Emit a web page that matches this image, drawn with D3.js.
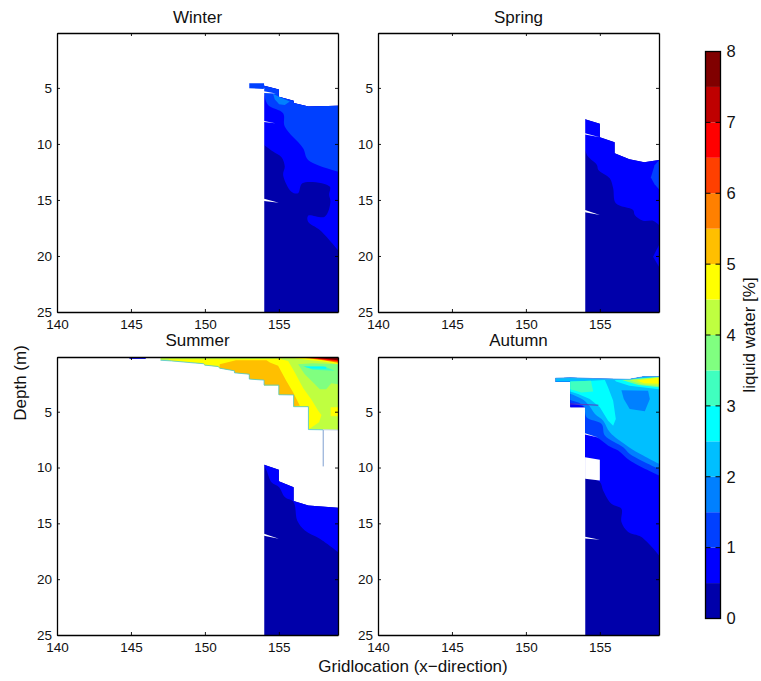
<!DOCTYPE html>
<html>
<head>
<meta charset="utf-8">
<script src="https://d3js.org/d3.v7.min.js"></script>
<style>
  html, body { margin: 0; padding: 0; background: #fff; }
  text { font-family: "Liberation Sans", Arial, sans-serif; fill: #111; }
</style>
</head>
<body>
<svg id="chart" width="761" height="681"></svg>
<script>
(function() {

  // colour levels of liquid water [%]
  var levels = [0.5, 1, 1.5, 2, 2.5, 3, 3.5, 4, 4.5, 5, 5.5, 6, 6.5, 7, 7.5];
  var levelColors = ['#0000aa', '#0000ff', '#0040ff', '#0080ff', '#00bfff', '#00ffff', '#40ffbf', '#80ff80',
    '#bfff40', '#ffff00', '#ffbf00', '#ff8000', '#ff4000', '#ff0000', '#bf0000', '#800000'];
  var barTicks = [0, 1, 2, 3, 4, 5, 6, 7, 8];

  var xTicks = [140, 145, 150, 155];
  var depthTicks = [5, 10, 15, 20, 25];

  // Contour outlines, all as [gridlocation, depth]
  // Winter
  var winterTop = [[154,4.8],[155,5.15],[155,5.8],[156,6.15],[156,6.35],[157,6.65],[159,6.6]];
  var winterEdge05 = [[154,10.09],[154.61,10.68],[155.18,11.19],[155.4,12.02],[155.29,12.77],[155.85,14.26],[156.3,14.4],
    [156.59,13.51],[158.44,13.81],[158.4,14.55],[158.49,15.15],[158.1,16.49],[156.98,16.4],[156.98,16.94],[157.77,17.68],[159,19.47]];
  var winterEdge10 = [[154,5.47],[154.27,6.52],[155.29,7.26],[155.4,8.45],[156.64,10.39],[156.98,11.43],[159,12.47]];
  var winterLobe = [[154.61,5.53],[154.72,6.01],[155.02,6.46],[155.4,6.52],[155.74,6.22],[155,5.8]];
  var winterCap = [[153,4.58],[154,4.58],[154,5.1],[153,5.03]];
  var winterGaps = [
    [[154,5.3],[154.8,5.5],[154,5.45]],
    [[154,7.95],[154.75,8.15],[154,8.05]],
    [[154,14.9],[155,15.24],[154,15.1]]
  ];

  // Spring
  var springTop = [[154,7.8],[155,8.21],[155,9.4],[156,9.85],[156,10.83],[157,11.37],[158,11.64],[159,11.43]];
  var springEdge05 = [[154,10.54],[154.2,11.13],[154.8,11.87],[154.9,12.32],[155.67,13.07],[155.9,13.96],[156.08,15.3],
    [157.25,15.9],[157.36,16.34],[157.92,16.85],[158.6,16.85],[159,17.23]];
  var springLobe = [[159,11.45],[158.7,11.9],[158.45,13],[158.7,13.6],[159,14.05]];
  var springPatch = [[159,19.02],[158.6,20.06],[159,20.96]];
  var springGaps = [
    [[154,9.05],[155,9.4],[154,9.15]],
    [[154,15.9],[155,16.34],[154,16.1]]
  ];

  // Summer, upper body
  var summerRim = [[147,0.39],[147.75,0.45],[149,0.6],[149.9,0.7],[150,0.83],[150.9,0.95],[151,1.1],[152,1.34],[152,1.52],[153,1.64],
    [153,2.08],[154,2.17],[154,2.62],[155,2.62],[155,3.48],[156,3.5],[156,4.55],[157,4.55],[157,6.6],[158,6.62]];
  var summerBody = [[147,0.2],[159,0.2],[159,6.64]].concat(summerRim.slice().reverse());
  var summerSteps = [[157,6.5],[157,4.55],[156,4.55],[156,3.5],[155,3.48],[155,2.62],[154,2.62],[154,2.17],[153,2.08],[153,1.64],
    [152,1.52],[152,1.34],[151,1.1]];
  var summerYellow = [[147.5,0.3],[152,0.3],[155,0.25],[155.63,0.45],[156.08,1.49],[156.65,2.9],[157.2,3.9],[157.66,4.91],[157.88,5.3],
    [157.72,5.95],[157.05,6.55]].concat(summerSteps, [[151,1],[150,0.83],[149.9,0.7],[149,0.6],[147.75,0.45]]);
  var summerOrange = [[151,0.75],[152.1,0.39],[154.17,0.39],[154.39,0.6],[154.95,0.89],[155.5,2.23],[155.97,3.27],[156.42,4.47],[156,4.5]]
    .concat(summerSteps.slice(2));
  var summerGreen = [[156.3,0.74],[157.3,0.65],[159,0.75],[159,2.53],[158.55,2.44],[158.2,2.98],[157.77,2.98],[157.2,2.23],[156.75,1.64]];
  var summerTeal = [[156.64,0.9],[158,0.9],[158.78,1.34],[157.3,1.25]];
  var summerCyan = [[156.7,0.98],[158.2,0.98],[158.2,1.15],[157.2,1.14]];
  var summerPatch = [[158.5,4.6],[159,4.6],[159,5.4],[158.5,5.4]];
  var summerWedges = [
    [[156,0.2],[159,0.2],[159,0.75],[158,0.5],[157,0.36]],
    [[156.8,0.2],[159,0.2],[159,0.62],[158,0.4]],
    [[157.1,0.2],[159,0.2],[159,0.52],[158,0.34]],
    [[157.3,0.2],[159,0.2],[159,0.45],[158,0.3]],
    [[157.6,0.2],[159,0.2],[159,0.38]]
  ];
  var summerFleck = [[144.9,0.2],[146,0.2],[146,0.28],[144.9,0.28]];
  var summerThread = [[158,6.64],[158,9.9]];

  // Summer, lower body
  var summerLowTop = [[154,9.76],[155,10.2],[155,11.22],[156,11.76],[156,13],[157,13.4],[159,13.6]];
  var summerLowEdge05 = [[154,9.85],[154.17,10.27],[154.5,11.31],[155.02,11.76],[155.4,12.65],[156,13.1],[156.24,14.74],
    [156.76,15.63],[157.77,16.37],[159,17.56]];
  var summerGaps = [
    [[154,15.93],[155,16.37],[154,16.1]]
  ];

  // Autumn
  var autumnTop = [[153,2.3],[152,2.3],[152,2],[153,1.95],[155,2.05],[157,2.1],[158,1.85],[159,1.85]];
  var autumnLead05 = [[153,4.6],[154,4.6],[154,10.9]];
  var autumnEdge05 = [[154,10.9],[155,11.3],[155.22,12.05],[155.78,13.24],[156.46,13.69],[156.46,14.88],
    [156.91,15.77],[157.81,16.22],[159,17.86]];
  var autumnLead10 = [[153,4.2],[153.8,4.5],[154,4.6],[154,7]];
  var autumnEdge10 = [[154,7],[154.78,7.29],[155.57,8.04],[156.24,8.48],[157.03,9.38],[159,10.72]];
  var autumnLead15 = [[153,3.95],[153.6,4.2],[154,4.6]];
  var autumnEdge15 = [[154,4.6],[154.1,5.5],[155.12,6.1],[155.34,7.14],[156.58,8.19],[157.03,8.78],[159,10.12]];
  var autumnEdge20 = [[153,3.4],[153.9,3.95],[154.3,4.5],[154.67,5.2],[155.23,5.8],[155.68,6.85],[156.92,8.13],[157.93,8.93],[159,9.67]];
  var autumnCyan = [[153,2.3],[154.43,2.23],[155.34,2.17],[155.56,2.83],[155.9,4.02],[156.08,5.66],[155.9,6.25],[155.56,5.8],[155,4.61],
    [154.32,3.87],[153.53,3.42],[153,3.19]];
  var autumnTeal = [[153,2.3],[154.4,2.23],[154.55,3.2],[153.75,3.27],[153,2.98]];
  var autumnIsland = [[156.46,3.07],[158.26,3.13],[158.38,3.87],[158.04,4.97],[157.02,4.76],[156.62,3.87]];
  var autumnRidge25 = [[156,2.15],[159,1.9],[159,2.98],[157,2.68],[156.1,2.3]];
  var autumnRidge35 = [[156.5,2.15],[159,1.9],[159,2.8],[157.6,2.6]];
  var autumnRidge40 = [[157,2.18],[159,1.92],[159,2.7],[157.8,2.55]];
  var autumnRidge45 = [[157.5,2.2],[159,1.95],[159,2.5],[158,2.45]];
  var autumnStreak = [[153,4.3],[154.9,4.42]];
  var autumnGaps = [
    [[154,6.93],[154.9,7.3],[154,7.05]],
    [[154,9.07],[155,9.3],[155,11.17],[154,11]],
    [[154,16.2],[155,16.46],[154,16.35]]
  ];

  // full body reaching the bottom of the plot
  var body = function(top) {
    return top.concat([[159,25],[top[0][0],25]]);
  };

  var winterLayers = [
    {value: 0, pts: body(winterTop)},
    {value: 0.5, top: winterTop, edge: winterEdge05},
    {value: 1, top: winterTop, edge: winterEdge10},
    {value: 1, pts: winterCap},
    {value: 1.5, pts: winterLobe}
  ];
  var springLayers = [
    {value: 0, pts: body(springTop)},
    {value: 0.5, top: springTop, edge: springEdge05},
    {value: 1, pts: springLobe},
    {value: 0.5, pts: springPatch}
  ];
  var summerLayers = [
    {value: 4, pts: summerBody},
    {value: 4.5, pts: summerYellow},
    {value: 5, pts: summerOrange},
    {value: 3.5, pts: summerGreen},
    {value: 3, pts: summerTeal},
    {value: 2.5, pts: summerCyan},
    {value: 4.5, pts: summerPatch},
    {value: 4.5, pts: summerWedges[0]},
    {value: 5.5, pts: summerWedges[1]},
    {value: 6, pts: summerWedges[2]},
    {value: 6.5, pts: summerWedges[3]},
    {value: 7.5, pts: summerWedges[4]},
    {value: 0.5, pts: summerFleck},
    {value: 0, pts: body(summerLowTop)},
    {value: 0.5, top: summerLowTop, edge: summerLowEdge05}
  ];
  var autumnBody = [[152,2.3],[152,2],[153,1.95],[155,2.05],[157,2.1],[158,1.85],[159,1.85],[159,25],[154,25],[154,4.6],[153,4.6],[153,2.3]];
  var autumnLayers = [
    {value: 0, pts: autumnBody},
    {value: 0.5, top: autumnTop, edge: autumnEdge05, lead: autumnLead05},
    {value: 1, top: autumnTop, edge: autumnEdge10, lead: autumnLead10},
    {value: 1.5, top: autumnTop, edge: autumnEdge15, lead: autumnLead15},
    {value: 2, top: autumnTop, edge: autumnEdge20},
    {value: 1.5, pts: autumnIsland},
    {value: 2.5, pts: autumnCyan},
    {value: 2.5, pts: autumnRidge25},
    {value: 3.5, pts: autumnRidge35},
    {value: 4, pts: autumnRidge40},
    {value: 4.5, pts: autumnRidge45},
    {value: 3, pts: autumnTeal}
  ];

  var svg = d3.select('#chart');
  var color = d3.scaleThreshold().domain(levels).range(levelColors);

  var seam = 'rgba(255,255,255,0.4)';
  var panels = [
    {title: 'Winter', x: 57, y: 33, h: 279, layers: winterLayers, gaps: winterGaps, titleY: -10, lines: [
      {pts: [[154,5], [154,25]], stroke: seam, w: 1}
    ]},
    {title: 'Spring', x: 378, y: 33, h: 279, layers: springLayers, gaps: springGaps, titleY: -10, lines: [
      {pts: [[154,7.8], [154,25]], stroke: seam, w: 1}
    ]},
    {title: 'Summer', x: 57, y: 357, h: 278, layers: summerLayers, gaps: summerGaps, titleY: -11, lines: [
      {pts: summerRim, stroke: '#4cc4dc', w: 0.8},
      {pts: [[158,6.62],[159,6.64]], stroke: '#c4d4f0', w: 1},
      {pts: summerThread, stroke: '#7f9fd0', w: 1},
      {pts: [[154,9.8], [154,25]], stroke: seam, w: 1}
    ]},
    {title: 'Autumn', x: 378, y: 357, h: 278, layers: autumnLayers, gaps: autumnGaps, titleY: -11, lines: [
      {pts: autumnStreak, stroke: '#5a3cc0', w: 1},
      {pts: autumnTop.slice(1), stroke: '#50a0ec', w: 0.8},
      {pts: [[154,11], [154,25]], stroke: seam, w: 1}
    ]}
  ];

  var panelW = 281;

  panels.forEach(function(p) {
    var g = svg.append('g').attr('transform', 'translate(' + p.x + ',' + p.y + ')');
    var xScale = d3.scaleLinear().domain([140, 159]).range([0, panelW]);
    var yScale = d3.scaleLinear().domain([0.1, 25]).range([0, p.h]);
    var path = d3.line()
      .x(function(d) { return xScale(d[0]); })
      .y(function(d) { return yScale(d[1]); });
    var curved = d3.line()
      .x(function(d) { return xScale(d[0]); })
      .y(function(d) { return yScale(d[1]); })
      .curve(d3.curveCatmullRom.alpha(0.5));

    // straight along the body, smoothed along the contour itself
    var layerPath = function(d) {
      if (d.pts) { return path(d.pts) + 'Z'; }
      var s = path(d.top) + curved(d.edge.slice().reverse()).replace(/^M/, 'L');
      if (d.lead) { s += path(d.lead.slice().reverse()).replace(/^M/, 'L'); }
      return s + 'Z';
    };

    g.selectAll('path.layer')
      .data(p.layers)
      .enter().append('path')
      .attr('class', 'layer')
      .attr('d', layerPath)
      .attr('fill', function(d) { return color(d.value); });

    // holes in the interpolated field
    g.selectAll('path.gap')
      .data(p.gaps)
      .enter().append('path')
      .attr('class', 'gap')
      .attr('d', function(d) { return path(d) + 'Z'; })
      .attr('fill', '#fff');

    g.selectAll('path.rim')
      .data(p.lines)
      .enter().append('path')
      .attr('class', 'rim')
      .attr('d', function(d) { return path(d.pts); })
      .attr('fill', 'none')
      .attr('stroke', function(d) { return d.stroke; })
      .attr('stroke-width', function(d) { return d.w; });

    // box with inward ticks, labels on bottom and left only
    var bottom = d3.axisBottom(xScale).tickValues(xTicks).tickSizeInner(-3).tickSizeOuter(0).tickPadding(7);
    var left = d3.axisLeft(yScale).tickValues(depthTicks).tickSizeInner(-3).tickSizeOuter(0).tickPadding(5);
    var top = d3.axisTop(xScale).tickValues(xTicks).tickSizeInner(-3).tickSizeOuter(0).tickFormat('');
    var right = d3.axisRight(yScale).tickValues(depthTicks).tickSizeInner(-3).tickSizeOuter(0).tickFormat('');

    var axes = [
      g.append('g').attr('transform', 'translate(0,' + p.h + ')').call(bottom),
      g.append('g').call(left),
      g.append('g').call(top),
      g.append('g').attr('transform', 'translate(' + panelW + ',0)').call(right)
    ];
    axes.forEach(function(a) {
      a.selectAll('.domain').attr('stroke', '#000').attr('stroke-width', 1.3);
      a.selectAll('.tick line').attr('stroke', '#000').attr('stroke-width', 0.9);
      a.selectAll('text')
        .style('font-family', '"Liberation Sans", Arial, sans-serif')
        .style('font-size', '13.5px')
        .attr('fill', '#111');
    });

    g.append('text')
      .attr('x', panelW / 2)
      .attr('y', p.titleY)
      .attr('text-anchor', 'middle')
      .style('font-size', '17px')
      .text(p.title);
  });

  svg.append('text')
    .attr('transform', 'translate(26,383) rotate(-90)')
    .attr('text-anchor', 'middle')
    .style('font-size', '17px')
    .text('Depth (m)');

  svg.append('text')
    .attr('x', 413)
    .attr('y', 672)
    .attr('text-anchor', 'middle')
    .style('font-size', '17px')
    .text('Gridlocation (x\u2212direction)');

  // Colorbar
  var barX = 705.5, barW = 15;
  var barScale = d3.scaleLinear().domain([0, 8]).range([618.5, 51.5]);
  var bar = svg.append('g');
  var barEdges = [0].concat(levels);

  bar.selectAll('rect')
    .data(barEdges)
    .enter().append('rect')
    .attr('x', barX)
    .attr('width', barW)
    .attr('y', function(d) { return barScale(d + 0.5); })
    .attr('height', function(d) { return barScale(d) - barScale(d + 0.5); })
    .attr('fill', function(d) { return color(d); });

  var barAxis = d3.axisRight(barScale).tickValues(barTicks).tickSizeInner(0).tickSizeOuter(0).tickPadding(6);
  var barG = svg.append('g').attr('transform', 'translate(' + (barX + barW) + ',0)').call(barAxis);
  barG.select('.domain').remove();
  barG.selectAll('text')
    .style('font-family', '"Liberation Sans", Arial, sans-serif')
    .style('font-size', '16.5px')
    .attr('fill', '#111');

  barTicks.forEach(function(t) {
    bar.append('line')
      .attr('x1', barX).attr('x2', barX + 5)
      .attr('y1', barScale(t)).attr('y2', barScale(t))
      .attr('stroke', '#000');
    bar.append('line')
      .attr('x1', barX + barW - 5).attr('x2', barX + barW)
      .attr('y1', barScale(t)).attr('y2', barScale(t))
      .attr('stroke', '#000');
  });

  bar.append('rect')
    .attr('x', barX)
    .attr('y', barScale(8))
    .attr('width', barW)
    .attr('height', barScale(0) - barScale(8))
    .attr('fill', 'none')
    .attr('stroke', '#000')
    .attr('stroke-width', 1.3);

  svg.append('text')
    .attr('transform', 'translate(755,335) rotate(-90)')
    .attr('text-anchor', 'middle')
    .style('font-size', '17px')
    .text('liquid water [%]');

})();
</script>
</body>
</html>
